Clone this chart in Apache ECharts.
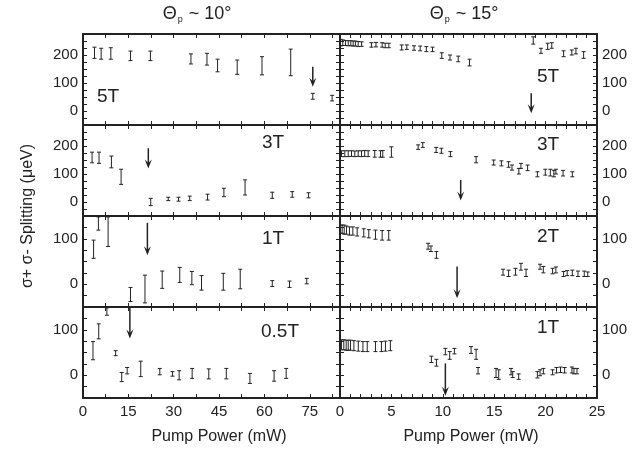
<!DOCTYPE html>
<html><head><meta charset="utf-8">
<script src="https://cdn.jsdelivr.net/npm/echarts/dist/echarts.min.js"></script>
<style>html,body{margin:0;padding:0;background:#fff}#c{width:644px;height:452px}</style>
</head><body><div id="c"></div><script>
// ---- data: [pump power, lower, upper] (µeV) ----
const colTitles = ['Θ', 'Θ'];
const colAngles = ['10°', '15°'];
const xLabelsLeft = [0, 15, 30, 45, 60, 75];
const xLabelsRight = [0, 5, 10, 15, 20, 25];
const yLabelsTall = [0, 100, 200];
const yLabelsShort = [0, 100];
const xName = 'Pump Power (mW)';
const yName = 'σ+ σ- Splitting (μeV)';
const fieldLabels = [['5T', '5T'], ['3T', '3T'], ['1T', '2T'], ['0.5T', '1T']];

const t10_5T = [[3.8,188,228],[6.0,185,224],[9.2,185,226],[15.7,180,214],[22.3,180,214],[35.7,168,204],[41,164,206],[44.5,140,185],[51,131,182],[59.2,129,194],[68.7,126,221],[76,42,63],[82.4,36,56]];
const t10_3T = [[3.0,140,178],[5.3,138,178],[9.4,122,164],[12.6,63,117],[22.4,-13,13],[28.2,5,17],[31.6,3,17],[35.3,5,21],[41.2,7,28],[46.6,19,49],[53.6,25,79],[62.6,13,35],[69.2,17,37],[74.6,15,33]];
const t10_1T = [[3.5,57,97],[5.1,119,148],[8.3,83,148],[15.7,-38,-7],[20.5,-41,20],[26.2,-9,29],[32,4,37],[36,-1,28],[39.2,-13,19],[46.4,-13,24],[52,-10,33],[62.6,-5,8],[68.3,-7,7],[74,1,13]];
const t10_05T = [[3.3,34,74],[5.2,80,113],[7.9,132,148],[10.8,43,54],[12.8,-14,6],[14.6,3,17],[19.1,-3,31],[25.4,1,15],[29.6,-2,8],[31.8,-10,10],[36.1,-7,15],[41.6,-8,14],[47.4,-8,15],[55.2,-18,4],[63.2,-13,10],[67.2,-7,15]];

const t15_5T = [[0.05,232,256],[0.27,234,254],[0.53,234,252],[0.8,233,251],[1.05,233,251],[1.28,232,250],[1.5,232,250],[1.77,230,248],[2.1,231,247],[3.06,228,244],[3.5,229,245],[4.1,228,244],[4.4,226,242],[4.75,226,242],[6.0,218,236],[6.5,220,236],[7.2,217,233],[7.8,215,232],[8.4,212,230],[9.0,212,228],[9.9,188,208],[10.7,182,200],[11.5,176,196],[12.6,161,185],[18.8,239,265],[19.55,206,224],[20.2,220,242],[20.6,224,244],[21.75,194,215],[22.55,200,218],[22.95,204,224],[23.7,188,212]];
const t15_3T = [[0.15,162,183],[0.47,162,183],[0.8,162,183],[1.12,163,183],[1.44,162,182],[1.77,163,183],[2.09,162,183],[2.4,163,184],[2.74,162,183],[3.38,160,184],[3.94,160,183],[4.16,160,184],[5.0,160,197],[7.6,188,204],[8.05,195,212],[9.35,177,195],[9.86,174,192],[10.74,162,180],[13.24,140,162],[14.95,132,150],[15.7,129,147],[16.4,124,144],[16.73,114,132],[17.4,100,120],[17.6,120,138],[18.25,112,132],[19.2,90,108],[19.97,96,117],[20.46,93,117],[20.8,90,113],[21.0,100,117],[21.7,93,113],[22.6,90,108]];
const t15_2T = [[0.05,112,130],[0.21,112,130],[0.41,110,130],[0.63,110,128],[0.92,108,126],[1.25,108,126],[1.67,106,124],[2.31,104,122],[2.8,102,120],[3.45,99,119],[4.1,97,118],[4.74,97,118],[8.57,77,90],[8.85,72,84],[9.38,57,72],[15.86,20,33],[16.4,17,31],[17.07,20,35],[17.6,31,46],[18.1,17,33],[19.46,33,44],[19.78,25,39],[20.68,23,35],[21.0,25,38],[21.75,17,28],[22.1,19,30],[22.6,19,31],[23.15,17,29],[23.76,17,29],[24.1,17,27]];
const t15_1T = [[0.14,56,78],[0.37,56,78],[0.6,55,77],[0.8,55,77],[1.02,55,77],[1.35,54,76],[1.78,53,75],[2.23,52,74],[2.65,52,74],[3.45,52,74],[4.03,52,74],[4.42,53,75],[4.9,54,76],[8.89,28,42],[9.38,20,35],[10.25,45,59],[10.67,35,52],[11.13,47,59],[12.75,48,63],[13.24,35,57],[13.43,3,17],[15.18,-5,15],[15.44,-9,12],[16.64,1,15],[16.8,-5,8],[17.38,-9,3],[19.2,-6,8],[19.46,-1,12],[19.78,3,15],[20.68,1,12],[21.06,5,17],[21.45,6,18],[21.85,5,17],[22.56,5,18],[22.76,3,15],[23.05,3,15]];

// arrows: [pump power, from, to]
const arrow10_5T = [76, 158, 87];
const arrow10_3T = [21.6, 192, 120];
const arrow10_1T = [21.3, 135, 64];
const arrow10_05T = [15.5, 150, 81];
const arrow15_5T = [18.6, 63, -8];
const arrow15_3T = [11.74, 79, 5];
const arrow15_2T = [11.39, 39, -31];
const arrow15_1T = [10.25, 26, -45];

const panelData = [[t10_5T, t15_5T], [t10_3T, t15_3T], [t10_1T, t15_2T], [t10_05T, t15_1T]];
const panelArrows = [[arrow10_5T, arrow15_5T], [arrow10_3T, arrow15_3T], [arrow10_1T, arrow15_2T], [arrow10_05T, arrow15_1T]];

// ---- layout ----
const INK = '#222';
const FONT = 'Liberation Sans, Arial, Helvetica, sans-serif';
const GL = [83, 340], GW = 257, GT = 34, GH = 91;
const labelPos = [[[108, 97], [548, 77]], [[273, 143], [548, 145]], [[273, 239], [548, 237]], [[280, 332], [548, 328]]];

function errRender(params, api) {
  const x = api.value(0), lo = api.value(1), hi = api.value(2);
  const a = api.coord([x, hi]), b = api.coord([x, lo]);
  const c = 2, st = { stroke: INK, lineWidth: 1 };
  return { type: 'group', children: [
    { type: 'line', shape: { x1: a[0], y1: a[1], x2: b[0], y2: b[1] }, style: st },
    { type: 'line', shape: { x1: a[0] - c, y1: a[1], x2: a[0] + c, y2: a[1] }, style: st },
    { type: 'line', shape: { x1: b[0] - c, y1: b[1], x2: b[0] + c, y2: b[1] }, style: st }
  ] };
}
function arrowRender(params, api) {
  const x = api.value(0);
  const a = api.coord([x, api.value(1)]), b = api.coord([x, api.value(2)]);
  const d = b[1] > a[1] ? 1 : -1, hl = 9, hw = 3.5;
  return { type: 'group', children: [
    { type: 'line', shape: { x1: a[0], y1: a[1], x2: b[0], y2: b[1] - d * hl * 0.5 }, style: { stroke: INK, lineWidth: 1.5 } },
    { type: 'polygon', shape: { points: [[b[0], b[1]], [b[0] - hw, b[1] - d * hl], [b[0], b[1] - d * hl * 0.6], [b[0] + hw, b[1] - d * hl]] }, style: { fill: INK } }
  ] };
}
const isIn = (arr, v) => arr.some(t => Math.abs(t - v) < 1e-6);

const grids = [], xAxes = [], yAxes = [], series = [], graphic = [];
const lineStyle = { color: INK, width: 2 };
const tickStyle = { show: true, inside: true, length: 4, lineStyle: { color: INK, width: 1 } };
for (let r = 0; r < 4; r++) {
  for (let c = 0; c < 2; c++) {
    const g = r * 2 + c;
    grids.push({ left: GL[c], top: GT + r * GH, width: GW, height: GH });
    const xmax = c === 0 ? 85 : 25, xint = c === 0 ? 7.5 : 1;
    const xl = c === 0 ? xLabelsLeft : xLabelsRight;
    const ymax = r < 2 ? 275 : 150;
    const yl = r < 2 ? yLabelsTall : yLabelsShort;
    const xBase = { type: 'value', gridIndex: g, min: 0, max: xmax, interval: xint, splitLine: { show: false },
      axisLine: { show: true, onZero: false, lineStyle }, axisTick: tickStyle };
    xAxes.push(Object.assign({}, xBase, { position: 'bottom',
      axisLabel: { show: r === 3, margin: 6, color: INK, fontSize: 15, fontFamily: FONT,
        formatter: v => isIn(xl, v) ? String(Math.round(v)) : '' } }));
    xAxes.push(Object.assign({}, xBase, { position: 'top', axisLabel: { show: false } }));
    const yBase = { type: 'value', gridIndex: g, min: -50, max: ymax, interval: 25, splitLine: { show: false },
      axisLine: { show: true, onZero: false, lineStyle }, axisTick: tickStyle };
    const yLab = { margin: 5, color: INK, fontSize: 15, fontFamily: FONT, formatter: v => isIn(yl, v) ? String(v) : '' };
    yAxes.push(Object.assign({}, yBase, { position: 'left', axisLabel: Object.assign({ show: c === 0 }, yLab) }));
    yAxes.push(Object.assign({}, yBase, { position: 'right', axisLabel: Object.assign({ show: c === 1 }, yLab) }));
    series.push({ type: 'custom', xAxisIndex: 2 * g, yAxisIndex: 2 * g, data: panelData[r][c], renderItem: errRender, clip: true, silent: true });
    series.push({ type: 'custom', xAxisIndex: 2 * g, yAxisIndex: 2 * g, data: [panelArrows[r][c]], renderItem: arrowRender, clip: false, silent: true });
    graphic.push({ type: 'text', x: labelPos[r][c][0], y: labelPos[r][c][1],
      style: { text: fieldLabels[r][c], fontSize: 19, fontFamily: FONT, fill: INK, align: 'center', verticalAlign: 'middle' } });
  }
}
const titleX = [197, 464];
for (let c = 0; c < 2; c++) {
  graphic.push({ type: 'text', x: titleX[c], y: 14, style: {
    text: '{a|' + colTitles[c] + '}{s|p}{a| ~ ' + colAngles[c] + '}', align: 'center', verticalAlign: 'middle',
    fill: INK, fontFamily: FONT,
    rich: { a: { fontSize: 18, fontFamily: FONT, fill: INK, lineHeight: 20 }, s: { fontSize: 9, fontFamily: FONT, fill: INK, verticalAlign: 'bottom', lineHeight: 20, padding: [0, 1, 0, 1] } } } });
}
const xNameX = [219, 471];
for (let c = 0; c < 2; c++) {
  graphic.push({ type: 'text', x: xNameX[c], y: 437, style: { text: xName, fontSize: 16, fontFamily: FONT, fill: INK, align: 'center', verticalAlign: 'middle' } });
}
graphic.push({ type: 'text', x: 28, y: 216, rotation: Math.PI / 2, style: { text: yName, fontSize: 16, fontFamily: FONT, fill: INK, align: 'center', verticalAlign: 'middle' } });

const chart = echarts.init(document.getElementById('c'), null, { renderer: 'canvas' });
chart.setOption({ animation: false, backgroundColor: '#fff', grid: grids, xAxis: xAxes, yAxis: yAxes, series, graphic });
</script></body></html>
